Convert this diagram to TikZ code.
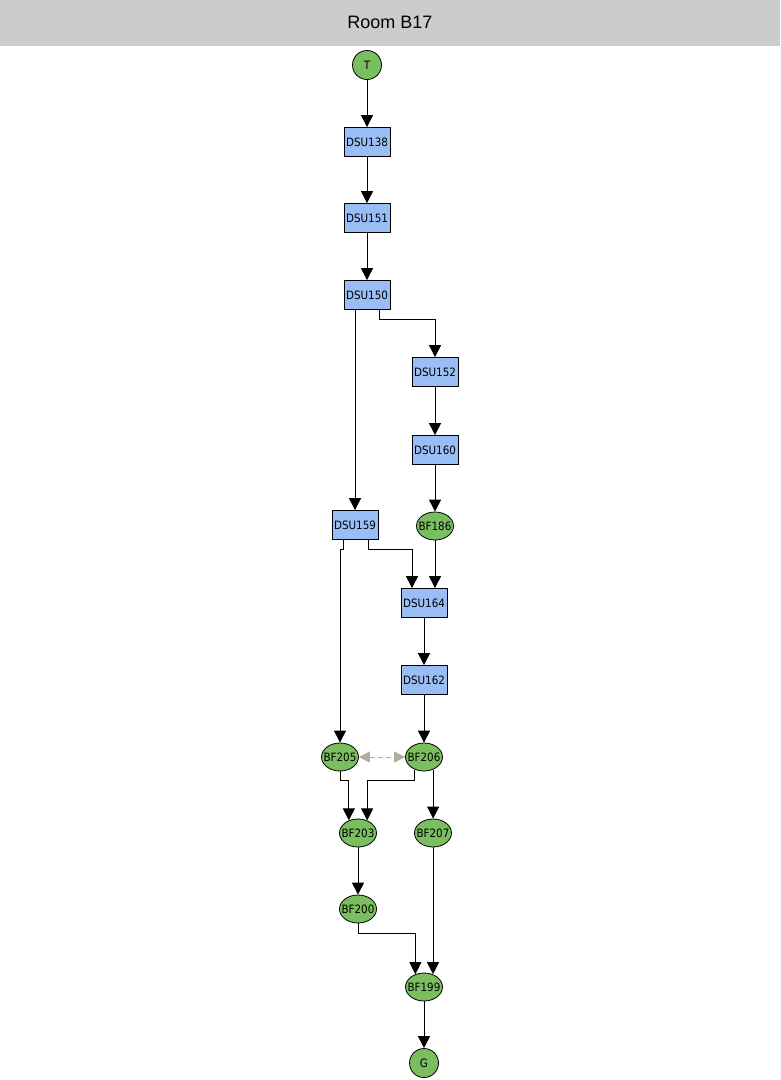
\documentclass[tikz,border=0pt]{standalone}
\usepackage{fontspec}
\setmainfont{Liberation Sans}
\newfontfamily\nodefont{DejaVu Sans Condensed}
\usetikzlibrary{shapes.geometric,arrows.meta,calc}
\definecolor{hdrgray}{RGB}{204,204,204}
\definecolor{boxblue}{RGB}{153,190,245}
\definecolor{nodegreen}{RGB}{122,190,96}
\definecolor{dashgray}{RGB}{176,174,158}
\tikzset{
  nodetext/.style={font=\nodefont\fontsize{11.5pt}{13pt}\selectfont},
  dsubox/.style={rectangle,draw=black,line width=0.8pt,fill=boxblue,minimum width=46pt,minimum height=29pt,inner sep=0pt,nodetext},
  bfell/.style={ellipse,draw=black,line width=0.8pt,fill=nodegreen,minimum width=37pt,minimum height=28pt,inner xsep=-4pt,inner ysep=0pt,nodetext},
  endcirc/.style={circle,draw=black,line width=0.8pt,fill=nodegreen,minimum size=29pt,inner sep=0pt,nodetext},
  arr/.style={draw=black,line width=0.9pt,-{Triangle[width=12pt,length=12pt]}},
  dasharr/.style={draw=dashgray,line width=0.9pt,dash pattern=on 5pt off 3pt,{Triangle[width=11pt,length=11pt]}-{Triangle[width=11pt,length=11pt]}},
}
\begin{document}
\begin{tikzpicture}[x=1pt,y=-1pt]
\useasboundingbox (0,0) rectangle (780,1080);
\fill[white] (0,0) rectangle (780,1080);
\fill[hdrgray] (0,0) rectangle (780,46);
\node[font=\fontsize{18pt}{21pt}\selectfont] (title) at (390,22) {Room B17};

\node[endcirc] (T) at (367,65) {T};
\node[dsubox] (DSU138) at (367,142) {DSU138};
\node[dsubox] (DSU151) at (367,218) {DSU151};
\node[dsubox] (DSU150) at (367,295) {DSU150};
\node[dsubox] (DSU152) at (435,372) {DSU152};
\node[dsubox] (DSU160) at (435,450) {DSU160};
\node[dsubox] (DSU159) at (355,525) {DSU159};
\node[bfell] (BF186) at (435,526) {BF186};
\node[dsubox] (DSU164) at (424,603) {DSU164};
\node[dsubox] (DSU162) at (424,680) {DSU162};
\node[bfell] (BF205) at (340,757) {BF205};
\node[bfell] (BF206) at (424,757) {BF206};
\node[bfell] (BF203) at (358,833) {BF203};
\node[bfell] (BF207) at (433,833) {BF207};
\node[bfell] (BF200) at (358,909) {BF200};
\node[bfell] (BF199) at (424,987) {BF199};
\node[endcirc] (G) at (424,1063) {G};

\coordinate (j150) at (0,319);
\coordinate (j159) at (0,549);
\coordinate (j205) at (0,780);
\coordinate (j200) at (0,933);

\draw[arr] (T) -- (DSU138);
\draw[arr] (DSU138) -- (DSU151);
\draw[arr] (DSU151) -- (DSU150);
\draw[arr] (DSU150.south -| DSU159.north) -- (DSU159.north);
\draw[arr] ([xshift=12pt]DSU150.south) -- ([xshift=12pt]DSU150.south |- j150) -| (DSU152.north);
\draw[arr] (DSU152) -- (DSU160);
\draw[arr] (DSU160) -- (BF186);
\draw[arr] ([xshift=-12pt]DSU159.south) -- ([xshift=-12pt]DSU159.south |- j159) -| (BF205.north);
\draw[arr] ([xshift=13pt]DSU159.south) -- ([xshift=13pt]DSU159.south |- j159) -| ([xshift=-12pt]DSU164.north);
\draw[arr] (BF186.south) -- (BF186.south |- DSU164.north);
\draw[arr] (DSU164) -- (DSU162);
\draw[arr] (DSU162) -- (BF206);
\draw[dasharr] (BF205.east) -- (BF206.west);
\draw[arr] (BF205.south) -- (BF205.south |- j205) -| (BF203.126);
\draw[arr] (BF206.-126) -- (BF206.-126 |- j205) -| (BF203.54);
\draw[arr] (BF206.-54) -- (BF207.north -| BF206.-54);
\draw[arr] (BF203) -- (BF200);
\draw[arr] (BF200.south) -- (BF200.south |- j200) -| (BF199.124);
\draw[arr] (BF207.south) -- (BF207.south |- BF199.56);
\draw[arr] (BF199) -- (G);
\end{tikzpicture}
\end{document}
